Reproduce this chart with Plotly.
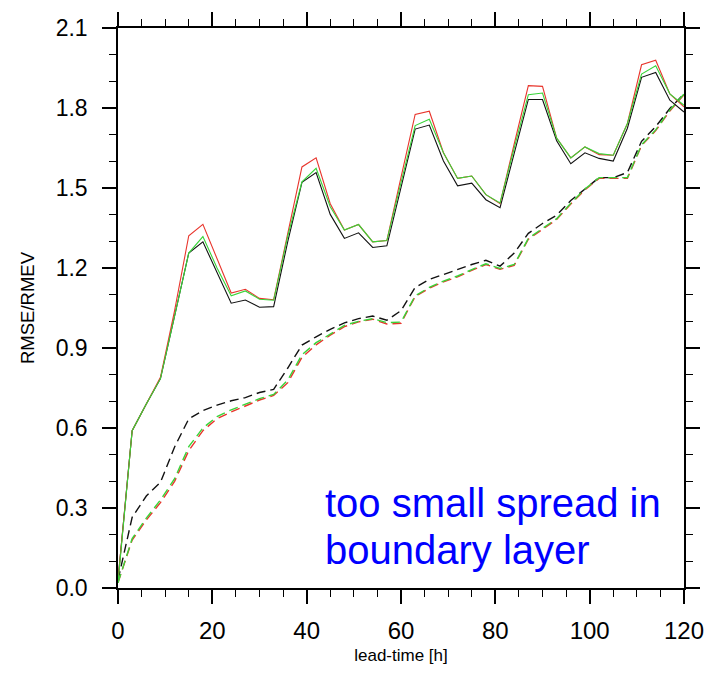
import plotly.graph_objects as go

# Lead times (hours), every 3 h from 0 to 120
lead_time = list(range(0, 121, 3))

# RMSE curves (solid)
rmse_black = [0.03, 0.59, 0.69, 0.785, 1.02, 1.256, 1.298, 1.18, 1.068, 1.08, 1.053, 1.055,
              1.30, 1.521, 1.558, 1.401, 1.311, 1.332, 1.277, 1.283, 1.50, 1.721, 1.736,
              1.601, 1.508, 1.518, 1.456, 1.426, 1.63, 1.832, 1.832, 1.677, 1.591, 1.632,
              1.611, 1.601, 1.724, 1.915, 1.933, 1.829, 1.785]
rmse_red = [0.03, 0.59, 0.69, 0.79, 1.04, 1.321, 1.364, 1.235, 1.106, 1.12, 1.086, 1.081,
            1.33, 1.579, 1.613, 1.441, 1.342, 1.363, 1.298, 1.303, 1.54, 1.776, 1.788,
            1.632, 1.536, 1.545, 1.475, 1.441, 1.665, 1.884, 1.881, 1.687, 1.613, 1.654,
            1.625, 1.623, 1.742, 1.962, 1.979, 1.853, 1.804]
rmse_green = [0.02, 0.59, 0.69, 0.785, 1.02, 1.256, 1.318, 1.20, 1.096, 1.114, 1.083, 1.079,
              1.32, 1.523, 1.574, 1.43, 1.342, 1.363, 1.298, 1.303, 1.52, 1.734, 1.758,
              1.632, 1.536, 1.545, 1.475, 1.444, 1.65, 1.850, 1.856, 1.687, 1.613, 1.654,
              1.629, 1.623, 1.742, 1.927, 1.958, 1.853, 1.81]

# RMEV (spread) curves (dashed)
rmev_black = [0.03, 0.265, 0.345, 0.396, 0.529, 0.634, 0.665, 0.686, 0.702, 0.714, 0.733,
              0.745, 0.825, 0.911, 0.942, 0.970, 0.994, 1.01, 1.02, 1.004, 1.04, 1.127,
              1.157, 1.176, 1.194, 1.213, 1.229, 1.207, 1.256, 1.33, 1.367, 1.398, 1.453,
              1.496, 1.539, 1.539, 1.558, 1.675, 1.73, 1.798, 1.853]
rmev_red = [0.02, 0.18, 0.255, 0.32, 0.40, 0.515, 0.59, 0.635, 0.66, 0.683, 0.705, 0.722,
            0.77, 0.865, 0.912, 0.948, 0.98, 0.998, 1.008, 0.99, 0.993, 1.093, 1.124,
            1.148, 1.167, 1.191, 1.213, 1.195, 1.21, 1.308, 1.345, 1.382, 1.44, 1.493,
            1.536, 1.536, 1.536, 1.659, 1.715, 1.789, 1.85]
rmev_green = [0.02, 0.185, 0.262, 0.33, 0.41, 0.53, 0.60, 0.643, 0.668, 0.69, 0.71, 0.726,
              0.78, 0.875, 0.92, 0.952, 0.985, 1.0, 1.01, 0.995, 0.997, 1.096, 1.127,
              1.151, 1.17, 1.194, 1.216, 1.198, 1.213, 1.311, 1.348, 1.385, 1.443, 1.496,
              1.539, 1.539, 1.539, 1.662, 1.718, 1.792, 1.853]

y_ticks = [0.0, 0.3, 0.6, 0.9, 1.2, 1.5, 1.8, 2.1]
x_ticks = [0, 20, 40, 60, 80, 100, 120]

BLACK = "#111111"
RED = "#e8352c"
GREEN = "#38d438"

fig = go.Figure()

for ys, col in [(rmev_black, BLACK), (rmev_red, RED), (rmev_green, GREEN)]:
    fig.add_trace(go.Scatter(x=lead_time, y=ys, mode="lines",
                             line=dict(color=col, width=1.4, dash="9px,5px"),
                             showlegend=False))

for ys, col in [(rmse_black, BLACK), (rmse_red, RED), (rmse_green, GREEN)]:
    fig.add_trace(go.Scatter(x=lead_time, y=ys, mode="lines",
                             line=dict(color=col, width=1.1),
                             showlegend=False))

font_family = "Liberation Sans, Arial, sans-serif"

fig.add_annotation(x=43.5, y=0.318, xref="x", yref="y", text="too small spread in",
                   showarrow=False, xanchor="left", yanchor="middle",
                   font=dict(family=font_family, size=40, color="#0000ff"))
fig.add_annotation(x=43.5, y=0.144, xref="x", yref="y", text="boundary layer",
                   showarrow=False, xanchor="left", yanchor="middle",
                   font=dict(family=font_family, size=40, color="#0000ff"))

fig.update_xaxes(
    range=[0, 120], tickvals=x_ticks, ticktext=[str(v) for v in x_ticks],
    ticks="outside", ticklen=14, tickwidth=1.5, tickcolor="black",
    minor=dict(dtick=5, ticks="outside", ticklen=7, tickwidth=1.2, tickcolor="black"),
    showline=True, linecolor="black", linewidth=1.5, mirror="allticks",
    showgrid=False, zeroline=False,
    tickfont=dict(family=font_family, size=24, color="black"),
    ticklabelstandoff=6,
    title=dict(text="lead-time [h]", font=dict(family=font_family, size=17, color="black"),
               standoff=7),
)
fig.update_yaxes(
    range=[0, 2.1], tickvals=y_ticks, ticktext=[f"{v:.1f}" for v in y_ticks],
    ticks="outside", ticklen=14, tickwidth=1.5, tickcolor="black",
    minor=dict(dtick=0.1, ticks="outside", ticklen=7, tickwidth=1.2, tickcolor="black"),
    showline=True, linecolor="black", linewidth=1.5, mirror="allticks",
    showgrid=False, zeroline=False,
    tickfont=dict(family=font_family, size=23, color="black"),
    ticklabelstandoff=10,
    title=dict(text="RMSE/RMEV", font=dict(family=font_family, size=18.5, color="black"),
               standoff=16),
)

fig.update_layout(
    width=718, height=674,
    margin=dict(l=117.5, r=33.7, t=21.6, b=83.7),
    plot_bgcolor="white", paper_bgcolor="white",
)

fig.write_html("out.html")
